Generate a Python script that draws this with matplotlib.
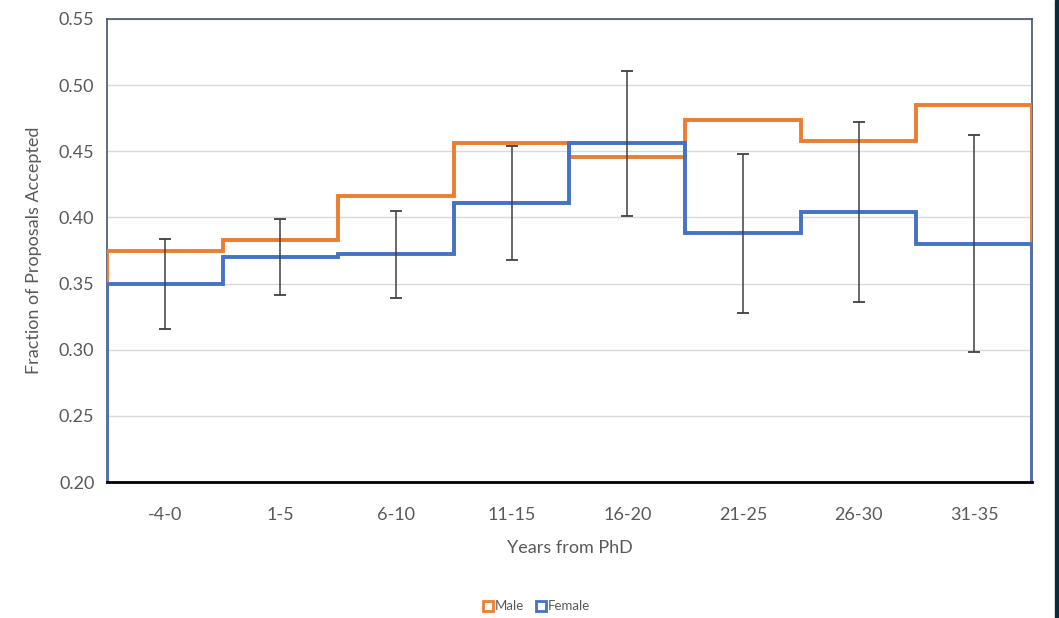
import matplotlib.pyplot as plt
import matplotlib.patches as patches
import numpy as np

# Data
groups = ["-4-0", "1-5", "6-10", "11-15", "16-20", "21-25", "26-30", "31-35"]
male = [0.375, 0.383, 0.416, 0.456, 0.446, 0.474, 0.458, 0.485]
female = [0.350, 0.370, 0.372, 0.411, 0.456, 0.388, 0.404, 0.380]
female_err = [0.034, 0.029, 0.033, 0.043, 0.055, 0.060, 0.068, 0.082]

orange = "#ED7D31"
blue = "#4472C4"
grey_text = "#595959"

plt.rcParams['font.family'] = ['Lato', 'DejaVu Sans']

fig = plt.figure(figsize=(10.59, 6.18), dpi=100)
ax = fig.add_axes([0.101, 0.22, 0.8735, 0.7493])

edges = np.arange(len(groups) + 1)
centers = edges[:-1] + 0.5

# light horizontal gridlines
ax.set_ylim(0.20, 0.55)
ax.set_yticks(np.arange(0.20, 0.551, 0.05))
ax.yaxis.grid(True, color="#D9D9D9", linewidth=1)
ax.set_axisbelow(True)

ax.stairs(male, edges, baseline=0.20, color=orange, linewidth=2.8, zorder=3)
ax.stairs(female, edges, baseline=0.20, color=blue, linewidth=2.8, zorder=4)

ax.errorbar(centers, female, yerr=female_err, fmt="none", ecolor="#404040",
            elinewidth=1.1, capsize=4, capthick=1.3, zorder=5)

ax.set_xlim(0, len(groups))
ax.set_xticks(centers)
ax.set_xticklabels(groups)
ax.tick_params(axis="both", length=0, colors=grey_text, labelsize=13)
ax.tick_params(axis="x", pad=18)
ax.tick_params(axis="y", pad=9)

for side in ["top", "left", "right"]:
    ax.spines[side].set_color("#44546A")
    ax.spines[side].set_linewidth(1.2)
ax.spines["bottom"].set_color("black")
ax.spines["bottom"].set_linewidth(2)
ax.spines["bottom"].set_zorder(6)

ax.set_xlabel("Years from PhD", color=grey_text, fontsize=13, labelpad=12)
ax.set_ylabel("Fraction of Proposals Accepted", color=grey_text, fontsize=13, labelpad=12)

# legend with open square markers
h_m, = ax.plot([], [], "s", mfc="white", mec=orange, mew=2, ms=7, label="Male")
h_f, = ax.plot([], [], "s", mfc="white", mec=blue, mew=2, ms=7, label="Female")
fig.legend(handles=[h_m, h_f], loc="center", bbox_to_anchor=(0.507, 0.019),
           ncol=2, frameon=False, fontsize=9.5, handlelength=0.6, handletextpad=0.2,
           columnspacing=1.0, labelcolor=grey_text)

# dark strip at the right edge of the screenshot
fig.patches.append(patches.Rectangle((0.9965, 0), 0.0035, 1, transform=fig.transFigure,
                                     color="#0D2B3E", zorder=0))

fig.savefig("out.png", dpi=100)
